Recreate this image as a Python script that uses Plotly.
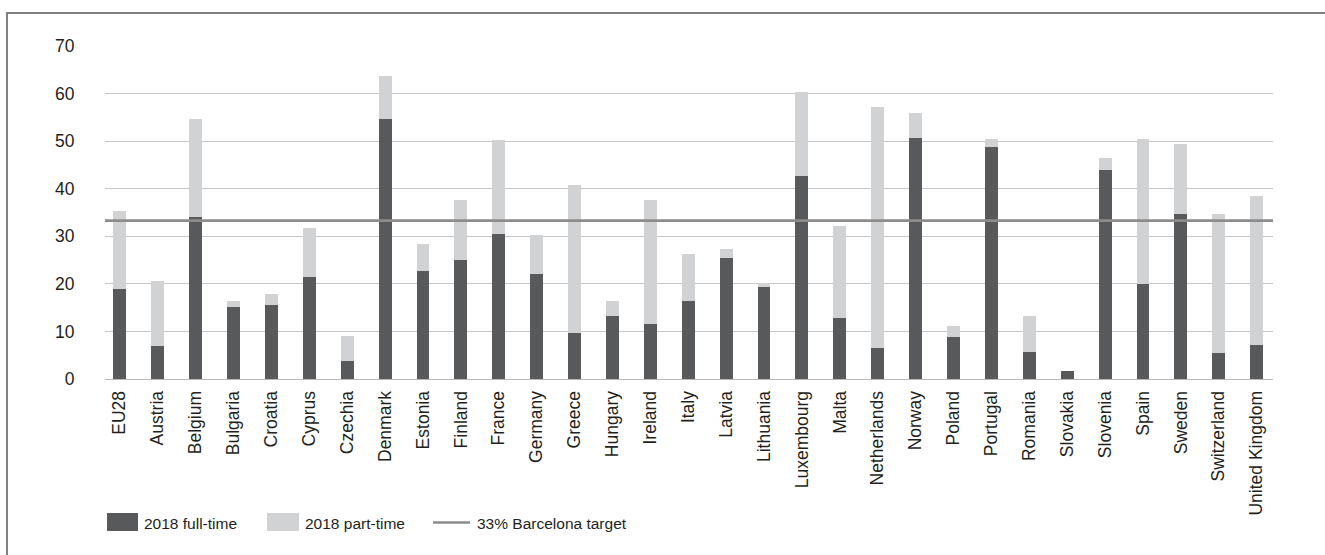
import plotly.graph_objects as go

categories = ["EU28", "Austria", "Belgium", "Bulgaria", "Croatia", "Cyprus", "Czechia",
              "Denmark", "Estonia", "Finland", "France", "Germany", "Greece", "Hungary",
              "Ireland", "Italy", "Latvia", "Lithuania", "Luxembourg", "Malta", "Netherlands",
              "Norway", "Poland", "Portugal", "Romania", "Slovakia", "Slovenia", "Spain",
              "Sweden", "Switzerland", "United Kingdom"]
full_time = [18.9, 6.9, 34.0, 15.1, 15.5, 21.4, 3.7, 54.7, 22.7, 25.0, 30.4, 22.0, 9.7, 13.2,
             11.6, 16.3, 25.5, 19.4, 42.6, 12.8, 6.5, 50.7, 8.8, 48.8, 5.6, 1.6, 43.9, 19.9,
             34.6, 5.4, 7.1]
part_time = [16.4, 13.6, 20.6, 1.4, 2.3, 10.3, 5.3, 9.0, 5.6, 12.6, 19.8, 8.2, 31.0, 3.3,
             26.0, 9.9, 1.8, 0.7, 17.7, 19.3, 50.7, 5.2, 2.3, 1.6, 7.6, 0.0, 2.5, 30.5,
             14.8, 29.2, 31.3]
barcelona_target = 33.3
y_ticks = [0, 10, 20, 30, 40, 50, 60, 70]
legend_labels = ["2018 full-time", "2018 part-time", "33% Barcelona target"]

DARK = "#58595b"
LIGHT = "#d1d2d4"
TARGET = "#8c8c8c"
TEXT = "#231f20"

W, H = 1325, 555
L, R, T, B = 105, 52, 46, 176
PW = W - L - R
PH = H - T - B


def px(x):
    return (x - L) / PW


def py(y):
    return (H - B - y) / PH


fig = go.Figure()
fig.add_trace(go.Bar(x=categories, y=full_time, name=legend_labels[0],
                     marker=dict(color=DARK, line=dict(width=0)), width=0.34,
                     showlegend=False))
fig.add_trace(go.Bar(x=categories, y=part_time, name=legend_labels[1],
                     marker=dict(color=LIGHT, line=dict(width=0)), width=0.34,
                     showlegend=False))

shapes = []
# Barcelona target line
shapes.append(dict(type="line", xref="paper", yref="y", x0=0, x1=1,
                   y0=barcelona_target, y1=barcelona_target,
                   line=dict(color=TARGET, width=2.7), layer="above"))
# Frame (top and left visible)
shapes.append(dict(type="rect", xref="paper", yref="paper",
                   x0=px(7), x1=px(W + 20), y0=py(H + 20), y1=py(13),
                   line=dict(color="#808080", width=2), fillcolor="rgba(0,0,0,0)",
                   layer="above"))
# Legend swatches
shapes.append(dict(type="rect", xref="paper", yref="paper",
                   x0=px(107), x1=px(138), y0=py(531), y1=py(513),
                   line=dict(width=0), fillcolor=DARK))
shapes.append(dict(type="rect", xref="paper", yref="paper",
                   x0=px(267), x1=px(299), y0=py(531), y1=py(513),
                   line=dict(width=0), fillcolor=LIGHT))
shapes.append(dict(type="line", xref="paper", yref="paper",
                   x0=px(433), x1=px(470), y0=py(522.5), y1=py(522.5),
                   line=dict(color=TARGET, width=2.5)))

annotations = []
for lbl, xpos in zip(legend_labels, [141.5, 303, 474.5]):
    annotations.append(dict(text=lbl, xref="paper", yref="paper", x=px(xpos), y=py(523.5),
                            xanchor="left", yanchor="middle", showarrow=False,
                            font=dict(family="Liberation Sans Narrow, Arial Narrow, Liberation Sans, Arial, sans-serif",
                                      size=15.5, color=TEXT)))

fig.update_layout(
    width=W, height=H,
    margin=dict(l=L, r=R, t=T, b=B, autoexpand=False),
    barmode="stack",
    plot_bgcolor="white", paper_bgcolor="white",
    shapes=shapes, annotations=annotations,
    font=dict(family="Liberation Sans, Arial, sans-serif", size=17, color=TEXT),
    xaxis=dict(type="category", range=[-0.39, 30.43], tickangle=-90,
               showgrid=False, showline=False, zeroline=False,
               ticks="outside", ticklen=4, tickcolor="rgba(0,0,0,0)",
               tickfont=dict(size=17.5, color=TEXT)),
    yaxis=dict(range=[0, 70], tickvals=y_ticks, showgrid=True, gridcolor="#c6c6c6",
               gridwidth=1.2, zeroline=True, zerolinecolor="#b8b8b8", zerolinewidth=1.2,
               showline=False, ticks="outside", ticklen=26, tickcolor="rgba(0,0,0,0)",
               tickfont=dict(size=17.5, color=TEXT)),
)

fig.write_html("out.html",
               config={"displayModeBar": False},
               post_script="document.body.style.margin='0';document.body.style.overflow='hidden';")
